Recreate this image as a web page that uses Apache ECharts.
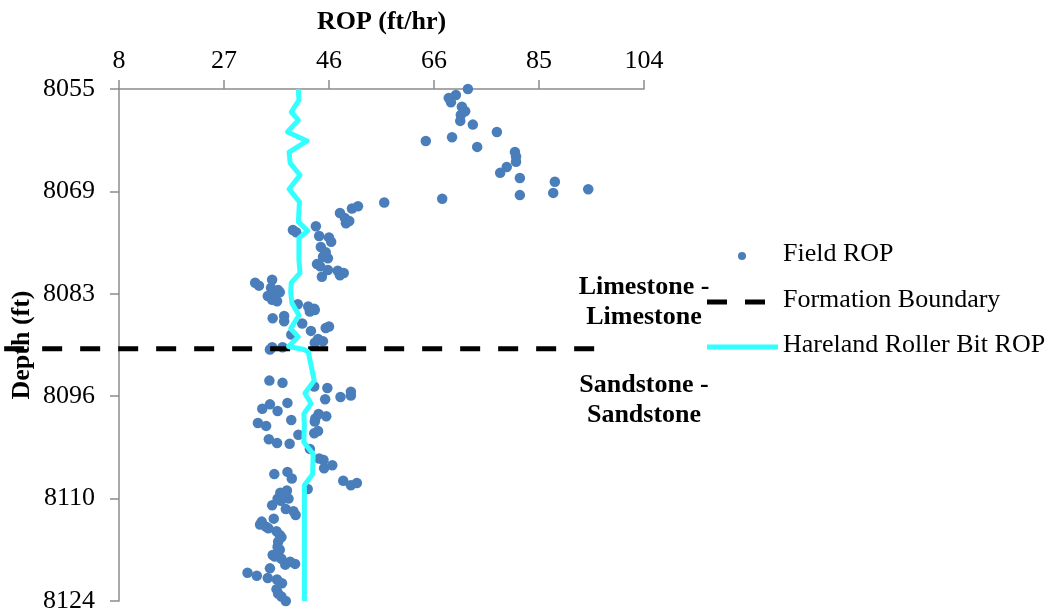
<!DOCTYPE html>
<html>
<head>
<meta charset="utf-8">
<script src="https://cdn.jsdelivr.net/npm/echarts@6/dist/echarts.min.js"></script>
<style>
html,body{margin:0;padding:0;background:#fff;}
#chart{width:1062px;height:615px;}
</style>
</head>
<body>
<div id="chart"></div>
<script>
// ---- data ----
const xTickLabels = ['8', '27', '46', '66', '85', '104'];
const yTickLabels = ['8055', '8069', '8083', '8096', '8110', '8124'];

const fieldROP = [71.8,69.6,68.3,68.7,70.7,71.3,70.5,70.4,72.7,77.1,64.1,68.9,73.5,80.4,80.6,80.6,78.9,77.7,81.3,87.7,
  93.8,87.4,81.3,67.1,56.5,51.7,50.6,48.4,49.3,50.1,49.5,44.0,39.8,40.4,44.6,46.4,46.8,44.9,45.8,45.3,
  46.2,44.2,44.8,46.2,48.0,49.1,48.4,45.1,32.9,33.6,36.0,35.8,37.1,37.4,36.2,35.2,36.0,36.9,40.7,42.6,
  43.7,43.8,42.9,36.1,38.2,38.2,41.5,43.1,45.8,46.4,39.5,44.4,45.3,43.8,35.6,36.0,37.9,35.5,37.9,43.7,
  46.1,45.7,48.5,50.4,50.4,35.6,34.2,37.0,38.8,44.5,45.9,43.9,39.5,33.4,34.9,43.8,40.8,43.7,44.4,35.4,
  36.9,39.2,42.9,44.6,45.4,45.5,47.0,36.4,38.8,39.6,42.5,49.0,50.4,51.5,37.5,38.7,39.0,37.6,37.0,36.0,
  38.5,39.9,40.3,36.3,34.1,33.8,34.9,35.3,36.8,37.4,37.7,37.1,37.0,37.4,36.1,36.5,37.7,38.4,39.3,40.2,
  35.6,31.5,33.2,35.2,36.9,37.8,36.8,37.1,37.7,38.5];
const fieldDepth = [8055.0,8055.8,8056.2,8056.8,8057.4,8058.0,8058.5,8059.3,8059.8,8060.8,8062.0,8061.5,8062.8,8063.5,8064.1,8064.8,8065.5,8066.3,8067.0,8067.5,
  8068.5,8069.0,8069.3,8069.8,8070.3,8070.8,8071.1,8071.7,8072.4,8072.8,8073.1,8073.5,8074.0,8074.3,8074.8,8075.0,8075.6,8076.3,8077.0,8077.6,
  8077.8,8078.6,8078.9,8079.4,8079.5,8079.8,8080.1,8080.3,8081.1,8081.5,8080.7,8081.8,8082.1,8082.4,8082.5,8082.9,8083.4,8083.6,8084.0,8084.3,
  8084.6,8084.8,8085.0,8085.9,8085.6,8086.3,8086.6,8087.6,8087.2,8087.0,8088.1,8088.7,8089.0,8089.2,8090.1,8089.8,8089.8,8094.3,8094.6,8095.1,
  8095.3,8096.8,8096.5,8095.8,8096.3,8097.5,8098.1,8098.4,8097.3,8098.8,8099.1,8099.4,8099.6,8100.0,8100.4,8099.8,8101.6,8101.4,8101.1,8102.2,
  8102.7,8102.8,8103.5,8104.8,8105.0,8106.1,8105.7,8106.9,8106.6,8107.5,8108.9,8107.8,8108.4,8108.1,8109.4,8109.1,8110.2,8110.5,8110.2,8111.1,
  8111.6,8111.9,8112.4,8112.9,8113.3,8113.7,8114.0,8114.2,8114.6,8115.1,8115.4,8116.0,8116.7,8117.1,8117.8,8118.0,8118.3,8119.1,8118.7,8119.0,
  8119.6,8120.2,8120.6,8120.9,8121.1,8121.6,8122.4,8123.0,8123.4,8124.0];

const harelandROP = [40.8,40.9,39.5,40.8,38.8,42.4,39.1,39.3,41.1,39.1,41.0,40.8,42.5,40.9,40.9,41.1,39.5,39.4,39.6,40.9,
  39.4,40.8,39.0,41.8,42.6,43.7,42.0,43.1,41.8,41.9,41.8,43.5,43.4,41.9,41.9];
const harelandDepth = [8055.0,8056.5,8058.1,8059.2,8060.8,8062.0,8063.5,8065.0,8066.6,8068.5,8070.2,8072.9,8074.1,8075.1,8078.0,8079.8,8081.1,8082.4,8083.8,8085.5,
  8087.3,8088.4,8089.7,8090.1,8090.4,8094.3,8096.0,8097.4,8098.8,8100.3,8102.6,8104.2,8106.9,8108.4,8124.0];

const boundaryROP = [-13, 97];
const boundaryDepth = [8090, 8090];

const seriesNames = ['Field ROP', 'Formation Boundary', 'Hareland Roller Bit ROP'];

// ---- styles ----
const FONT = '"Liberation Serif", "Times New Roman", serif';
const BLUE = '#4A7EBB';
const CYAN = '#33FFFF';
const AXIS_GRAY = '#8C8C8C';

const zip = (a, b) => a.map((v, i) => [v, b[i]]);

const chart = echarts.init(document.getElementById('chart'), null, {renderer: 'canvas'});

const option = {
  backgroundColor: '#fff',
  animation: false,
  grid: {left: 119, right: 418, top: 89, bottom: 14, containLabel: false, outerBoundsMode: 'none'},
  xAxis: [
    {type: 'value', min: 8, max: 104, position: 'top', show: false},
    {type: 'value', min: 0, max: 5, interval: 1, position: 'top',
      name: 'ROP (ft/hr)', nameLocation: 'middle', nameGap: 54,
      nameTextStyle: {fontFamily: FONT, fontSize: 26, fontWeight: 'bold', color: '#000'},
      axisLine: {show: true, onZero: false, lineStyle: {color: AXIS_GRAY, width: 1.5}},
      axisTick: {show: true, inside: false, length: 9, lineStyle: {color: AXIS_GRAY, width: 1.5}},
      axisLabel: {show: true, interval: 0, margin: 15, fontFamily: FONT, fontSize: 26, color: '#000',
        formatter: v => xTickLabels[Math.round(v)]},
      splitLine: {show: false}}
  ],
  yAxis: [
    {type: 'value', min: 8055, max: 8124, inverse: true, position: 'left', show: false},
    {type: 'value', min: 0, max: 5, interval: 1, inverse: true, position: 'left',
      name: 'Depth (ft)', nameLocation: 'middle', nameGap: 84, nameRotate: 90,
      nameTextStyle: {fontFamily: FONT, fontSize: 26, fontWeight: 'bold', color: '#000'},
      axisLine: {show: true, onZero: false, lineStyle: {color: AXIS_GRAY, width: 1.5}},
      axisTick: {show: true, inside: false, length: 9, lineStyle: {color: AXIS_GRAY, width: 1.5}},
      axisLabel: {show: true, interval: 0, margin: 24, fontFamily: FONT, fontSize: 26, color: '#000',
        formatter: v => yTickLabels[Math.round(v)]},
      splitLine: {show: false}}
  ],
  series: [
    {name: seriesNames[0], type: 'scatter', xAxisIndex: 0, yAxisIndex: 0,
      data: zip(fieldROP, fieldDepth), symbol: 'circle', symbolSize: 10.5,
      itemStyle: {color: BLUE, opacity: 1}, z: 2, silent: true},
    {name: seriesNames[2], type: 'line', xAxisIndex: 0, yAxisIndex: 0,
      data: zip(harelandROP, harelandDepth), symbol: 'none', clip: false,
      lineStyle: {color: CYAN, width: 5, join: 'round'}, z: 4, silent: true}
  ]
};
chart.setOption(option);

// Formation boundary extends past the plot area (as in the reference), so it is
// drawn with the library's own scale converting data to pixels.
const bPts = zip(boundaryROP, boundaryDepth).map(p => chart.convertToPixel({xAxisIndex: 0, yAxisIndex: 0}, p));

chart.setOption({
  graphic: [
    {type: 'line', z: 3, shape: {x1: bPts[0][0], y1: bPts[0][1], x2: bPts[1][0], y2: bPts[1][1]},
      style: {stroke: '#000', lineWidth: 5, lineDash: [20, 18], lineCap: 'butt'}},
    // legend
    {type: 'circle', shape: {cx: 742, cy: 256, r: 4}, style: {fill: BLUE}},
    {type: 'text', left: 783, top: 256 - 15, style: {text: seriesNames[0], font: '26px ' + FONT, fill: '#000'}},
    {type: 'line', shape: {x1: 707, y1: 302, x2: 765, y2: 302}, style: {stroke: '#000', lineWidth: 5, lineDash: [20, 18]}},
    {type: 'text', left: 783, top: 302 - 15, style: {text: seriesNames[1], font: '26px ' + FONT, fill: '#000'}},
    {type: 'line', shape: {x1: 707, y1: 347, x2: 778, y2: 347}, style: {stroke: CYAN, lineWidth: 5}},
    {type: 'text', left: 783, top: 347 - 15, style: {text: seriesNames[2], font: '26px ' + FONT, fill: '#000'}},
    // formation annotations
    {type: 'text', x: 644, y: 302.5, style: {text: 'Limestone -\nLimestone', font: 'bold 26px ' + FONT,
      fill: '#000', align: 'center', verticalAlign: 'middle', lineHeight: 29.5}},
    {type: 'text', x: 644, y: 400, style: {text: 'Sandstone -\nSandstone', font: 'bold 26px ' + FONT,
      fill: '#000', align: 'center', verticalAlign: 'middle', lineHeight: 30}}
  ]
});
</script>
</body>
</html>
